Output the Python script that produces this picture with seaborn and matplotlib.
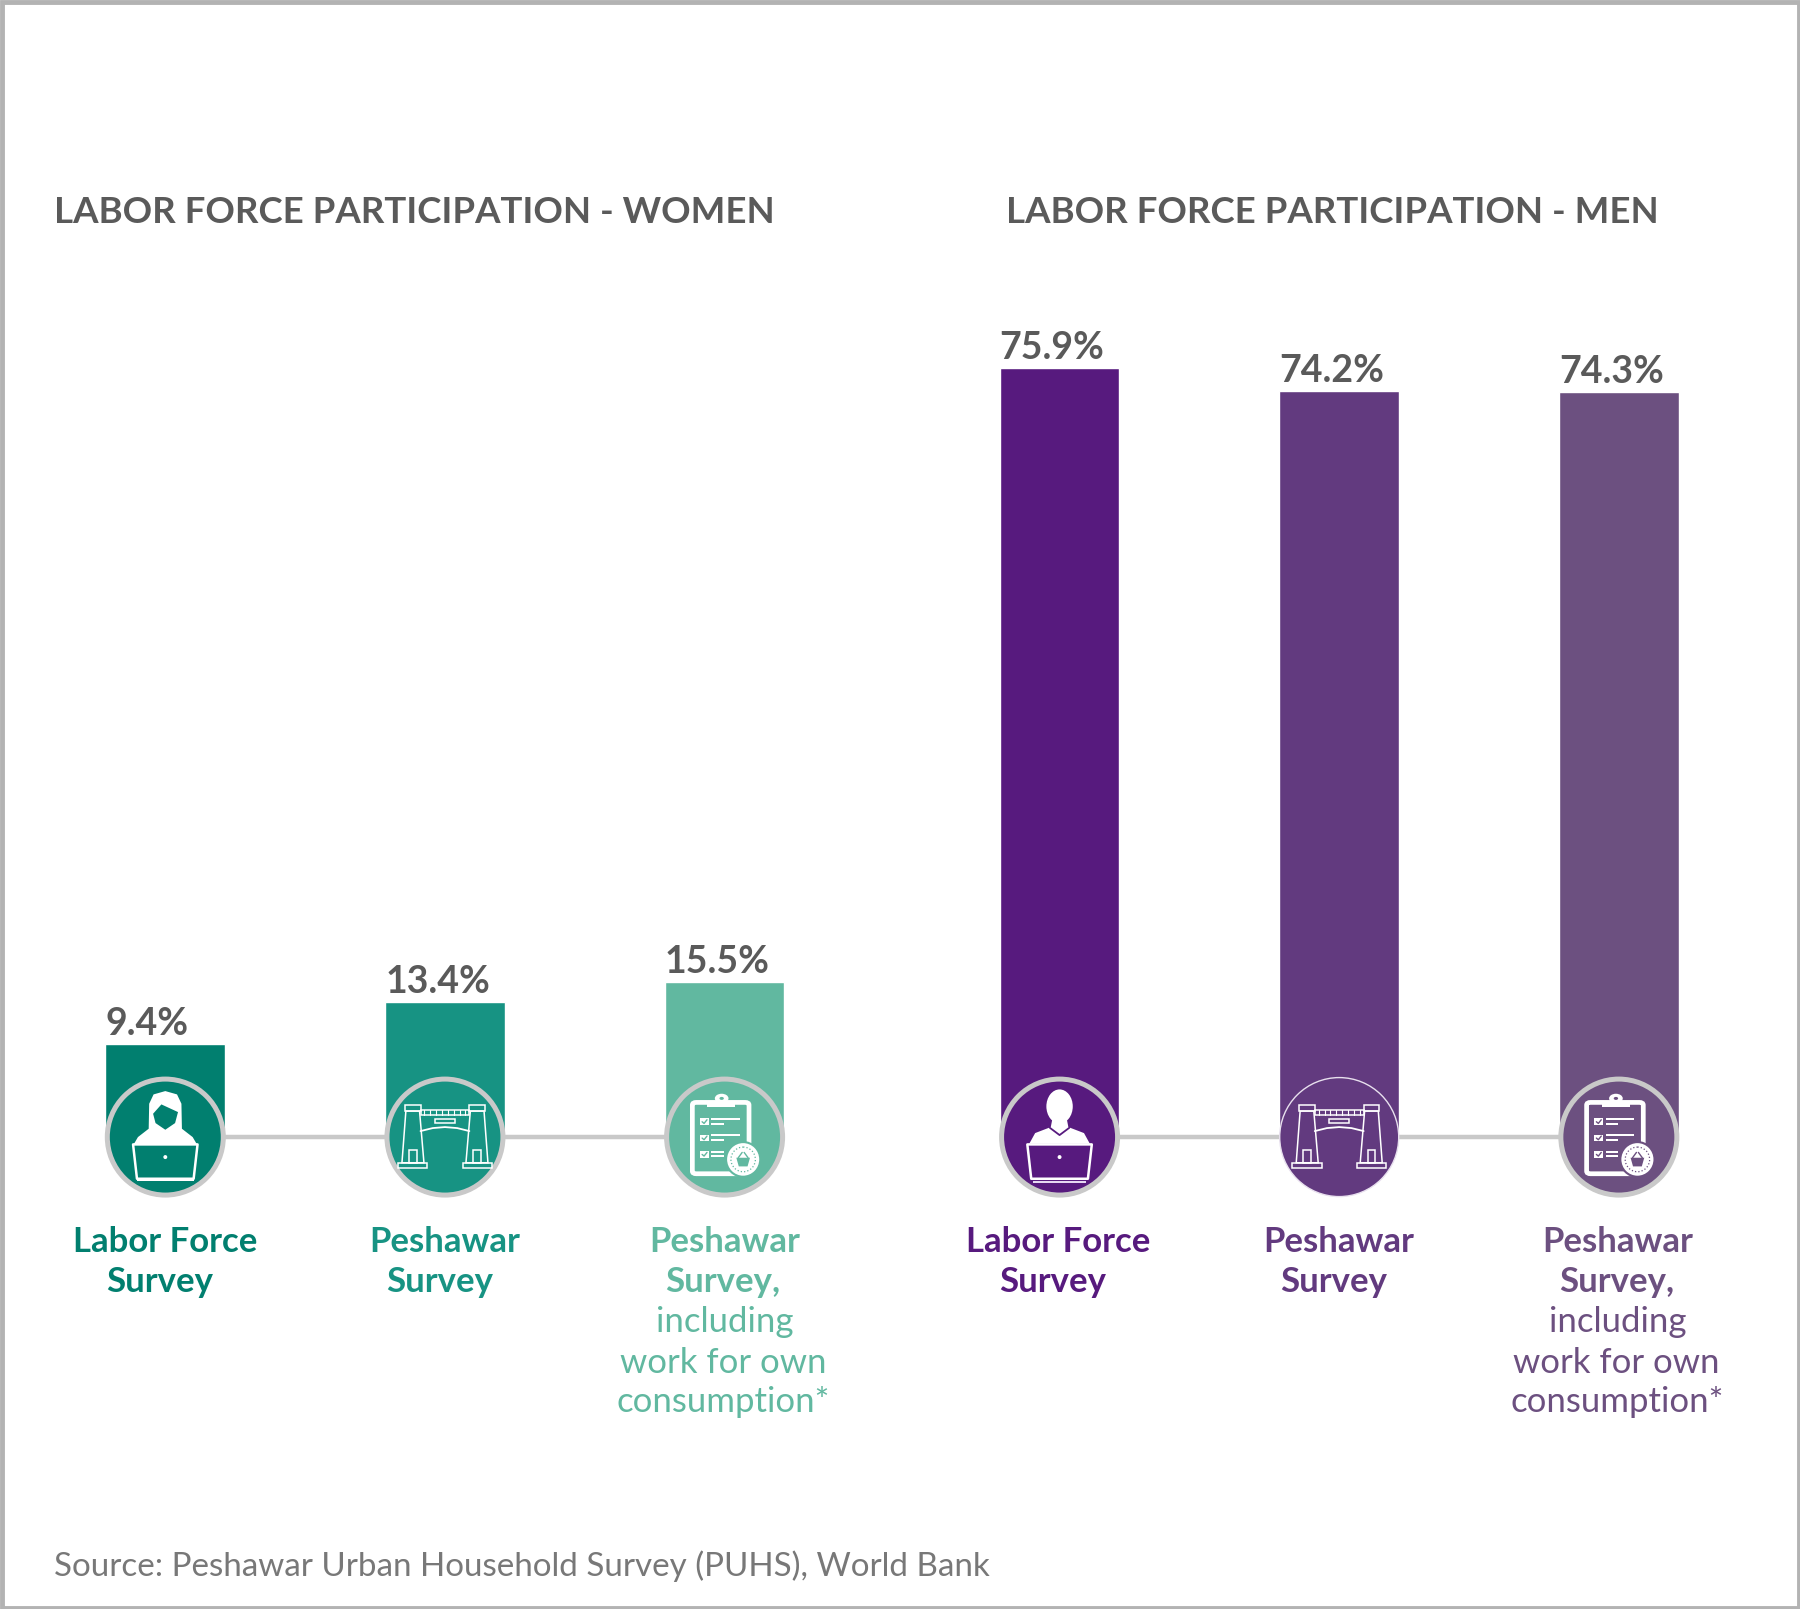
"""
Labor force participation, women vs men, by survey.
"""
import pandas as pd
import matplotlib
matplotlib.use('Agg')
import matplotlib.pyplot as plt
from matplotlib.patches import Circle, Ellipse, FancyBboxPatch, Polygon, Rectangle
from matplotlib.transforms import Affine2D
import seaborn as sns

sns.set_theme(style='white')
plt.rcParams['font.family'] = ['Lato', 'DejaVu Sans']

# ─── Data ─────────────────────────────────────────────────────────────────────
surveys = ['lfs', 'pes', 'pes_own']
women_values = [9.4, 13.6, 15.5]     # bar heights as drawn
men_values = [75.9, 73.7, 73.6]
women_labels = ['9.4%', '13.4%', '15.5%']
men_labels = ['75.9%', '74.2%', '74.3%']
women_colors = ['#017f6f', '#179383', '#61b8a0']
men_colors = ['#571a7e', '#623a7f', '#6c5080']
titles = ['LABOR FORCE PARTICIPATION - WOMEN', 'LABOR FORCE PARTICIPATION - MEN']
bold_lines = [['Labor Force', 'Survey'], ['Peshawar', 'Survey'], ['Peshawar', 'Survey,']]
light_lines = ['including', 'work for own', 'consumption*']
source = 'Source: Peshawar Urban Household Survey (PUHS), World Bank'

W, H = 1800, 1609
S = 1800 / 1568      # picture px per px of the preview I measured from
GREY = '#5a5a5a'
RING = '#c9c9c9'
CIRCLE_Y = 0.28
BAR_W = 0.428


def draw_panel(ax, values, labels, colors):
    df = pd.DataFrame({'survey': surveys, 'value': values})
    sns.barplot(data=df, x='survey', y='value', hue='survey', palette=colors,
                dodge=False, width=BAR_W, legend=False, saturation=1, ax=ax)
    ax.set_xlim(-0.5, 2.5)
    ax.set_ylim(0, 80)
    ax.axis('off')
    ax.plot([0, 2], [CIRCLE_Y, CIRCLE_Y], color=RING, lw=3.2, zorder=3, clip_on=False)
    for i, (v, lab) in enumerate(zip(values, labels)):
        ax.text(i - BAR_W / 2, v + 0.3, lab, ha='left', va='bottom', fontsize=27,
                fontweight='bold', color=GREY)


# icons are drawn in crop units around the circle centre, y pointing down
def laptop(ov, t, col):
    ov.add_patch(Polygon([(-66, 22), (66, 22), (58, 125), (-58, 125)], fc=col, ec='white', lw=1.8,
                         joinstyle='round', zorder=8, transform=t))
    ov.add_patch(Ellipse((0, 60), 8, 12, fc='white', ec='none', zorder=9, transform=t))


def woman(ov, t, col):
    pts = [(-33, -100), (-24, -128), (0, -138), (24, -128), (33, -100), (34, -25), (56, 0), (66, 25),
           (-66, 25), (-56, 0), (-34, -25)]
    ov.add_patch(Polygon(pts, fc='white', ec='none', zorder=6, transform=t))
    face = [(-25, -70), (-8, -98), (26, -75), (20, -42), (0, -22), (-20, -42)]
    ov.add_patch(Polygon(face, fc=col, ec='none', zorder=7, transform=t))
    laptop(ov, t, col)
    ov.add_patch(Rectangle((-58, 127), 116, 6, fc='white', ec='none', zorder=7, transform=t))


def man(ov, t, col):
    ov.add_patch(Ellipse((0, -92), 54, 102, fc='white', ec='none', zorder=6, transform=t))
    pts = [(-14, -60), (14, -60), (18, -30), (50, -12), (62, 20), (-62, 20), (-50, -12), (-18, -30)]
    ov.add_patch(Polygon(pts, fc='white', ec='none', zorder=6, transform=t))
    ov.plot([-20, 0, 20], [-28, -6, -28], color=col, lw=1.3, zorder=7, transform=t)
    laptop(ov, t, col)
    ov.add_patch(Rectangle((-55, 132), 110, 6, fc='#e6d8f2', ec='none', zorder=7, transform=t))


def gate(ov, t, col):
    for sgn in (-1, 1):
        tower = [(sgn * 80, -78), (sgn * 52, -78), (sgn * 43, 77), (sgn * 88, 77)]
        ov.add_patch(Polygon(tower, fc='none', ec='white', lw=1.1, zorder=6, transform=t))
        for box in [(sgn * 66 - 16, -95, 32, 17), (sgn * 66 - 8, 40, 16, 37), (sgn * 66 - 30, 77, 60, 15)]:
            ov.add_patch(Rectangle(box[:2], box[2], box[3], fc='none', ec='white', lw=1.1, zorder=6, transform=t))
    ov.add_patch(Rectangle((-50, -80), 100, 14, fc='none', ec='white', lw=1.1, zorder=6, transform=t))
    for x in range(-42, 43, 12):
        ov.plot([x, x], [-80, -66], color='white', lw=0.8, zorder=6, transform=t)
    ov.add_patch(Rectangle((-21, -53), 42, 12, fc='none', ec='white', lw=1.1, zorder=6, transform=t))
    ov.plot([-50, -25, 0, 25, 50], [-18, -27, -30, -27, -18], color='white', lw=1.3, zorder=6, transform=t)


def clipboard(ov, t, col):
    ov.add_patch(FancyBboxPatch((-66, -104), 116, 214, boxstyle='round,pad=0,rounding_size=8',
                                fc='none', ec='white', lw=3.4, zorder=6, transform=t))
    ov.add_patch(Rectangle((-35, -108), 57, 18, fc='white', ec='none', zorder=7, transform=t))
    ov.add_patch(Ellipse((-6, -116), 28, 28, fc='white', ec='none', zorder=7, transform=t))
    ov.add_patch(Ellipse((-6, -116), 9, 9, fc=col, ec='none', zorder=8, transform=t))
    for yy in (-46, 3, 52):
        ov.add_patch(Rectangle((-50, yy - 10), 18, 20, fc='white', ec='none', zorder=7, transform=t))
        ov.plot([-46, -42, -36], [yy, yy + 5, yy - 6], color=col, lw=1, zorder=8, transform=t)
        ov.add_patch(Rectangle((-27, yy - 11), 58 if yy < 50 else 26, 6, fc='white', ec='none', zorder=7, transform=t))
        ov.add_patch(Rectangle((-27, yy + 3), 26, 6, fc='white', ec='none', zorder=7, transform=t))
    ov.add_patch(Ellipse((38, 67), 70, 104, fc='white', ec=col, lw=1.5, zorder=8, transform=t))
    ov.add_patch(Ellipse((38, 67), 50, 74, fc='none', ec=col, lw=0.9, ls=':', zorder=9, transform=t))
    ov.add_patch(Polygon([(24, 62), (52, 62), (47, 88), (29, 88)], fc=col, ec='none', zorder=9, transform=t))
    ov.plot([28, 36], [62, 46], color=col, lw=1, zorder=9, transform=t)
    ov.plot([48, 40], [62, 46], color=col, lw=1, zorder=9, transform=t)


# ─── Figure ───────────────────────────────────────────────────────────────────
fig = plt.figure(figsize=(W / 100, H / 100), dpi=100, facecolor='white')

base = 993 * S
unit = 8.854 * S
ax_h = 80 * unit
step = 243.6 * S
ax_w = 3 * step
ax_women = fig.add_axes([(144 * S - step / 2) / W, (H - base) / H, ax_w / W, ax_h / H])
ax_men = fig.add_axes([(923 * S - step / 2) / W, (H - base) / H, ax_w / W, ax_h / H])
draw_panel(ax_women, women_values, women_labels, women_colors)
draw_panel(ax_men, men_values, men_labels, men_colors)

# overlay in pixel coordinates for icons and captions
ov = fig.add_axes([0, 0, 1, 1])
ov.set_xlim(0, W)
ov.set_ylim(H, 0)
ov.axis('off')
ov.patch.set_alpha(0)
ov.add_patch(Rectangle((1.5, 1.5), W - 3, H - 3, fc='none', ec='#b3b3b3', lw=3.5, zorder=1))

icons = [[woman, gate, clipboard], [man, gate, clipboard]]
for panel, (ax, colors) in enumerate([(ax_women, women_colors), (ax_men, men_colors)]):
    for i, col in enumerate(colors):
        cx, cy = ax.transData.transform((i, CIRCLE_Y))
        cy = H - cy
        thin = panel == 1 and i == 1
        ov.add_patch(Circle((cx, cy), 59.5 if thin else 58, fc=col, ec='#e8e0ee' if thin else RING,
                            lw=1 if thin else 3.6, zorder=5))
        t = Affine2D().scale(1 / 2.047, 1 / 3).translate(cx, cy) + ov.transData
        icons[panel][i](ov, t, col)

ov.text(47 * S, 185 * S, titles[0], fontsize=26.4, fontweight='bold', color=GREY, ha='left', va='center')
ov.text(876 * S, 185 * S, titles[1], fontsize=26.4, fontweight='bold', color=GREY, ha='left', va='center')

line_y = [1082, 1117, 1152, 1187, 1221]
line1_x = [[144, 387, 631], [922, 1166, 1409]]
line2_x = [[139, 383, 630], [917, 1162, 1408]]
light_x = [[631, 630, 630], [1409, 1408, 1409]]
for panel, colors in enumerate([women_colors, men_colors]):
    for i, col in enumerate(colors):
        ov.text(line1_x[panel][i] * S, line_y[0] * S, bold_lines[i][0], fontsize=25, fontweight='bold',
                color=col, ha='center', va='center')
        ov.text(line2_x[panel][i] * S, line_y[1] * S, bold_lines[i][1], fontsize=25, fontweight='bold',
                color=col, ha='center', va='center')
    for j, line in enumerate(light_lines):
        ov.text(light_x[panel][j] * S, line_y[j + 2] * S, line, fontsize=25, fontweight='normal',
                color=colors[2], ha='center', va='center')

ov.text(47 * S, 1364 * S, source, fontsize=23.9, fontweight='normal', color='#787878', ha='left', va='center')

fig.savefig('out.png', dpi=100)
plt.close()
